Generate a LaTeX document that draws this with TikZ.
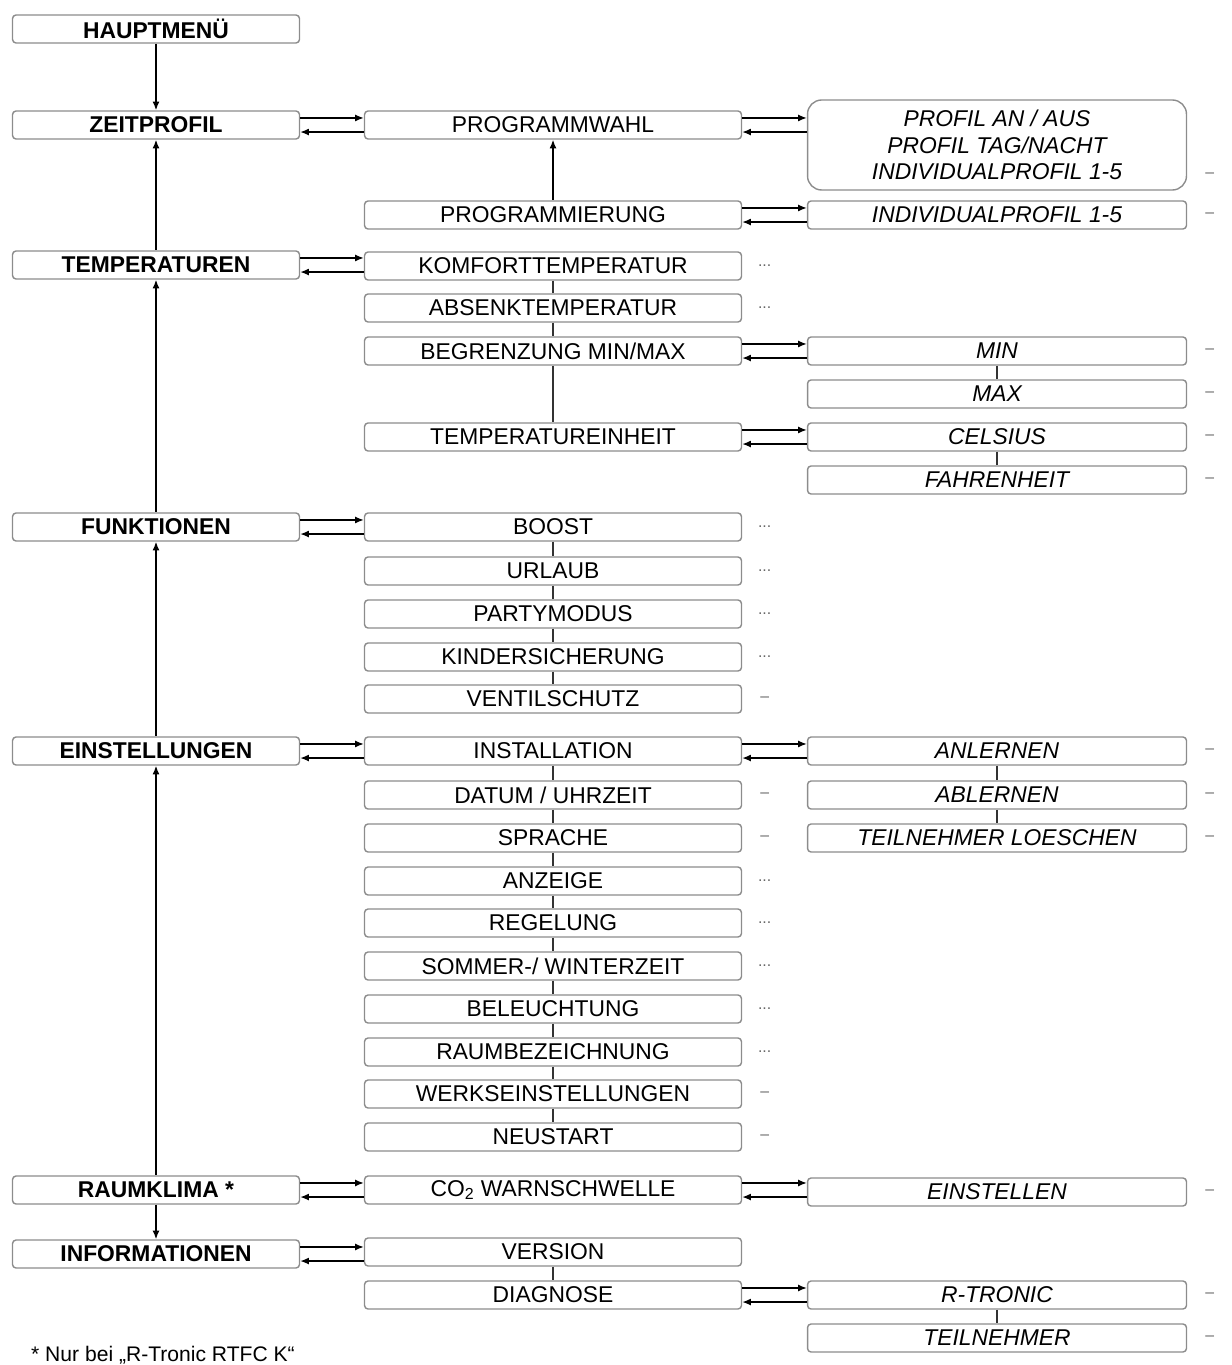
\documentclass[tikz,border=0pt]{standalone}
\usepackage{fontspec}
\setmainfont{Liberation Sans}
\usetikzlibrary{arrows.meta}
\tikzset{
	menu/.style={
		% The shape:
		rectangle,rounded corners=2pt,
		% The size:
		minimum width=5.74cm,minimum height=0.56cm,inner sep=0pt,
		% The border:
		draw=black!45,thick,
		font=\fontsize{13}{15}\selectfont\bfseries,
	}}
\tikzset{
	item/.style={
		menu,minimum width=7.54cm,font=\fontsize{13}{15}\selectfont,
	}}
\tikzset{
	option/.style={
		item,minimum width=7.58cm,font=\fontsize{13}{15}\selectfont\itshape,
	}}
\tikzset{
	more/.style={font=\fontsize{9}{9}\selectfont,text=black!60},
	link/.style={thick,black!80},
	arr/.style={thick,-{Latex[length=5pt,width=4pt]}},
}
\newcommand{\pair}[2]{%
	\draw[arr] ([yshift=4pt]#1.east) -- ([yshift=4pt]#1.east -| #2.west);
	\draw[arr] ([yshift=-4pt]#1.east -| #2.west) -- ([yshift=-4pt]#1.east);}
\begin{document}
\begin{tikzpicture}[x=0.02cm,y=-0.02cm]
				\useasboundingbox (0,0) rectangle (1231,1365);
				% main menu
				\node[menu] (haupt) at (156,29) {HAUPTMENÜ};
				\node[menu] (zeit) at (156,125) {ZEITPROFIL};
				\node[menu] (temp) at (156,265) {TEMPERATUREN};
				\node[menu] (funk) at (156,527) {FUNKTIONEN};
				\node[menu] (einst) at (156,751) {EINSTELLUNGEN};
				\node[menu] (klima) at (156,1190) {RAUMKLIMA *};
				\node[menu] (info) at (156,1254) {INFORMATIONEN};
				% sub menus
				\node[item] (wahl) at (553,125) {PROGRAMMWAHL};
				\node[item] (prog) at (553,215) {PROGRAMMIERUNG};
				\node[item] (komf) at (553,266) {KOMFORTTEMPERATUR};
				\node[item] (absenk) at (553,308) {ABSENKTEMPERATUR};
				\node[item] (begr) at (553,351) {BEGRENZUNG MIN/MAX};
				\node[item] (einheit) at (553,437) {TEMPERATUREINHEIT};
				\node[item] (boost) at (553,527) {BOOST};
				\node[item] (urlaub) at (553,571) {URLAUB};
				\node[item] (party) at (553,614) {PARTYMODUS};
				\node[item] (kinder) at (553,657) {KINDERSICHERUNG};
				\node[item] (ventil) at (553,699) {VENTILSCHUTZ};
				\node[item] (install) at (553,751) {INSTALLATION};
				\node[item] (datum) at (553,795) {DATUM / UHRZEIT};
				\node[item] (sprache) at (553,838) {SPRACHE};
				\node[item] (anzeige) at (553,881) {ANZEIGE};
				\node[item] (regel) at (553,923) {REGELUNG};
				\node[item] (sommer) at (553,966) {SOMMER-/ WINTERZEIT};
				\node[item] (licht) at (553,1009) {BELEUCHTUNG};
				\node[item] (raum) at (553,1052) {RAUMBEZEICHNUNG};
				\node[item] (werk) at (553,1094) {WERKSEINSTELLUNGEN};
				\node[item] (neu) at (553,1137) {NEUSTART};
				\node[item] (co2) at (553,1190) {CO\textsubscript{2} WARNSCHWELLE};
				\node[item] (version) at (553,1252) {VERSION};
				\node[item] (diag) at (553,1295) {DIAGNOSE};
				% options
				\node[option,minimum height=1.8cm,rounded corners=8pt,align=center] (profil) at (997,145)
					{PROFIL AN / AUS\\PROFIL TAG/NACHT\\INDIVIDUALPROFIL 1-5};
				\node[option] (indiv) at (997,215) {INDIVIDUALPROFIL 1-5};
				\node[option] (min) at (997,351) {MIN};
				\node[option] (max) at (997,394) {MAX};
				\node[option] (cels) at (997,437) {CELSIUS};
				\node[option] (fahr) at (997,480) {FAHRENHEIT};
				\node[option] (anl) at (997,751) {ANLERNEN};
				\node[option] (abl) at (997,795) {ABLERNEN};
				\node[option] (loesch) at (997,838) {TEILNEHMER LOESCHEN};
				\node[option] (stellen) at (997,1192) {EINSTELLEN};
				\node[option] (tronic) at (997,1295) {R-TRONIC};
				\node[option] (teil) at (997,1338) {TEILNEHMER};
				% continuation marks
				\foreach \n in {komf,absenk,boost,urlaub,party,kinder,anzeige,regel,sommer,licht,raum}
					\node[more] at ([xshift=0.45cm]\n.east) {...};
				\foreach \n in {ventil,datum,sprache,werk,neu}
					\node[more] at ([xshift=0.45cm]\n.east) {--};
				\foreach \n in {indiv,min,max,cels,fahr,anl,abl,loesch,stellen,tronic,teil}
					\node[more] at ([xshift=0.45cm]\n.east) {--};
				\node[more] at ([xshift=0.45cm,yshift=-0.6cm]profil.east) {--};
				% main column
				\draw[arr] (haupt) -- (zeit);
				\draw[arr,{Latex[length=5pt,width=4pt]}-] (zeit) -- (temp);
				\draw[arr,{Latex[length=5pt,width=4pt]}-] (temp) -- (funk);
				\draw[arr,{Latex[length=5pt,width=4pt]}-] (funk) -- (einst);
				\draw[arr,{Latex[length=5pt,width=4pt]}-] (einst) -- (klima);
				\draw[arr] (klima) -- (info);
				\draw[arr,{Latex[length=5pt,width=4pt]}-] (wahl) -- (prog);
				% sibling links
				\foreach \a/\b in {komf/absenk,absenk/begr,begr/einheit,boost/urlaub,urlaub/party,party/kinder,kinder/ventil,
					install/datum,datum/sprache,sprache/anzeige,anzeige/regel,regel/sommer,sommer/licht,licht/raum,raum/werk,werk/neu,
					version/diag,min/max,cels/fahr,anl/abl,abl/loesch,tronic/teil}
					\draw[link] (\a) -- (\b);
				% double arrows
				\pair{zeit}{wahl}
				\pair{wahl}{profil}
				\pair{prog}{indiv}
				\pair{temp}{komf}
				\pair{begr}{min}
				\pair{einheit}{cels}
				\pair{funk}{boost}
				\pair{einst}{install}
				\pair{install}{anl}
				\pair{klima}{co2}
				\pair{co2}{stellen}
				\pair{info}{version}
				\pair{diag}{tronic}
				\node[anchor=west,font=\fontsize{12}{14}\selectfont] (note) at (25,1355) {* Nur bei „R-Tronic RTFC K“};
\end{tikzpicture}
\end{document}
